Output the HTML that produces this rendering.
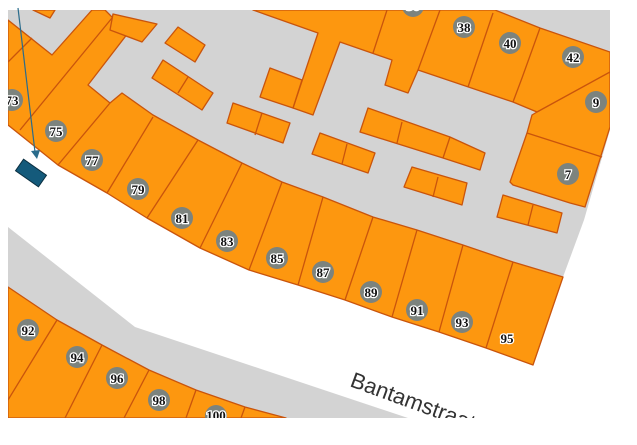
<!DOCTYPE html>
<html><head><style>
html,body{margin:0;padding:0;background:#fff;}
svg{display:block;}
.o{fill:#fd970f;stroke:#c9540c;stroke-width:1.3;stroke-linejoin:round;}
.l{stroke:#c9540c;stroke-width:1.3;fill:none;}
.c{fill:#7c837e;}
.t{font-family:"Liberation Serif",serif;font-weight:bold;font-size:13px;fill:#111;stroke:#fff;stroke-width:2.5px;paint-order:stroke;text-anchor:middle;}
</style></head><body>
<svg width="637" height="445" viewBox="0 0 637 445" xmlns="http://www.w3.org/2000/svg">
<defs><clipPath id="m"><rect x="8" y="10" width="602" height="408"/></clipPath></defs>
<g clip-path="url(#m)">
<polygon fill="#d3d3d3" points="8,10 610,10 610,130 584,220 563,277 533,365 486,348 439,332 392,317 345,300 298,285 249,270 200,248 147,218 107,193 58,165 8,125"/>
<polygon fill="#d3d3d3" points="8,227 135,327 408,418 8,418"/>
<polygon class="o" points="8,20 52,55 92,10 105,10 128,33 88,85 110,103 122,93 153,115 198,140 242,163 282,182 323,197 373,217 417,230 463,245 513,262 563,277 533,365 486,348 439,332 392,317 345,300 298,285 249,270 200,248 147,218 107,193 58,165 8,125"/>
<polygon class="o" points="33,10 55,10 50,18"/>
<line class="l" x1="8" y1="62" x2="32" y2="38"/>
<line class="l" x1="20" y1="130" x2="112" y2="18"/>
<line class="l" x1="58" y1="165" x2="110" y2="103"/>
<line class="l" x1="107" y1="193" x2="153" y2="117"/>
<line class="l" x1="147" y1="218" x2="198" y2="140"/>
<line class="l" x1="200" y1="248" x2="242" y2="163"/>
<line class="l" x1="249" y1="270" x2="282" y2="182"/>
<line class="l" x1="298" y1="285" x2="323" y2="197"/>
<line class="l" x1="345" y1="300" x2="373" y2="217"/>
<line class="l" x1="392" y1="317" x2="417" y2="230"/>
<line class="l" x1="439" y1="332" x2="463" y2="245"/>
<line class="l" x1="486" y1="348" x2="513" y2="262"/>
<polygon class="o" points="253,10 495,10 540,28 610,52 610,127 585,207 570,203 513,185 510,182 527,133 532,115 537,112 513,102 418,70 408,93 385,85 392,60 340,42 313,115 293,108 318,33 267,15"/>
<line class="l" x1="387" y1="10" x2="373" y2="53"/>
<line class="l" x1="440" y1="10" x2="418" y2="70"/>
<line class="l" x1="493" y1="13" x2="468" y2="87"/>
<polyline class="l" points="540,28 522,78 513,102"/>
<line class="l" x1="537" y1="112" x2="610" y2="72"/>
<line class="l" x1="527" y1="133" x2="602" y2="157"/>
<polygon class="o" points="260,97 270,68 302,80 293,108"/>
<polygon class="o" points="113,14 157,24 142,42 110,30"/>
<polygon class="o" points="178,27 205,45 195,62 165,43"/>
<polygon class="o" points="163,60 213,93 202,110 152,78"/><line class="l" x1="188" y1="77" x2="178" y2="93"/>
<polygon class="o" points="233,103 290,123 283,143 227,123"/><line class="l" x1="262" y1="113" x2="255" y2="135"/>
<polygon class="o" points="320,133 375,153 368,173 312,154"/><line class="l" x1="347" y1="144" x2="342" y2="164"/>
<polygon class="o" points="368,108 450,137 485,153 480,170 443,158 360,132"/><line class="l" x1="402" y1="122" x2="397" y2="143"/><line class="l" x1="450" y1="137" x2="443" y2="158"/>
<polygon class="o" points="412,167 467,183 462,205 404,187"/><line class="l" x1="438" y1="177" x2="433" y2="197"/>
<polygon class="o" points="503,195 562,213 557,233 497,217"/><line class="l" x1="533" y1="205" x2="528" y2="225"/>
<polygon class="o" points="8,287 57,320 102,345 149,370 196,390 245,407 286,418 8,418"/>
<line class="l" x1="57" y1="320" x2="8" y2="400"/>
<line class="l" x1="102" y1="345" x2="65" y2="418"/>
<line class="l" x1="149" y1="370" x2="124" y2="418"/>
<line class="l" x1="196" y1="390" x2="186" y2="418"/>
<line class="l" x1="245" y1="407" x2="241" y2="418"/>
<g>
<circle class="c" cx="413" cy="6" r="11"/><text class="t" x="413" y="10">36</text>
<circle class="c" cx="12" cy="100" r="11"/><text class="t" x="12" y="105">73</text>
<circle class="c" cx="56" cy="131" r="11"/><text class="t" x="56" y="136">75</text>
<circle class="c" cx="92" cy="160" r="11"/><text class="t" x="92" y="165">77</text>
<circle class="c" cx="138" cy="189" r="11"/><text class="t" x="138" y="194">79</text>
<circle class="c" cx="182" cy="218" r="11"/><text class="t" x="182" y="223">81</text>
<circle class="c" cx="227" cy="241" r="11"/><text class="t" x="227" y="246">83</text>
<circle class="c" cx="277" cy="258" r="11"/><text class="t" x="277" y="263">85</text>
<circle class="c" cx="323" cy="272" r="11"/><text class="t" x="323" y="277">87</text>
<circle class="c" cx="371" cy="292" r="11"/><text class="t" x="371" y="297">89</text>
<circle class="c" cx="417" cy="310" r="11"/><text class="t" x="417" y="315">91</text>
<circle class="c" cx="462" cy="322" r="11"/><text class="t" x="462" y="327">93</text>
<text class="t" x="507" y="343">95</text>
<circle class="c" cx="464" cy="27" r="11"/><text class="t" x="464" y="32">38</text>
<circle class="c" cx="510" cy="43" r="11"/><text class="t" x="510" y="48">40</text>
<circle class="c" cx="573" cy="57" r="11"/><text class="t" x="573" y="62">42</text>
<circle class="c" cx="596" cy="102" r="11"/><text class="t" x="596" y="107">9</text>
<circle class="c" cx="568" cy="174" r="11"/><text class="t" x="568" y="179">7</text>
<circle class="c" cx="28" cy="330" r="11"/><text class="t" x="28" y="335">92</text>
<circle class="c" cx="77" cy="357" r="11"/><text class="t" x="77" y="362">94</text>
<circle class="c" cx="117" cy="378" r="11"/><text class="t" x="117" y="383">96</text>
<circle class="c" cx="159" cy="400" r="11"/><text class="t" x="159" y="405">98</text>
<circle class="c" cx="216" cy="416" r="11"/><text class="t" x="216" y="420">100</text>
</g>
<text x="349" y="386" transform="rotate(20 349 386)" font-family="Liberation Sans, sans-serif" font-size="22" fill="#333" style="stroke:#fff;stroke-width:2px;paint-order:stroke">Bantamstraat</text>
</g>
<line x1="18" y1="8" x2="35" y2="152" stroke="#2a6c8c" stroke-width="1.2"/>
<polygon points="31,151 40,150 37,159" fill="#2a6c8c"/>
<rect x="17" y="166" width="28" height="14" transform="rotate(35 31 173)" fill="#145a7b" stroke="#0b2f40" stroke-width="1"/>
</svg>
</body></html>
